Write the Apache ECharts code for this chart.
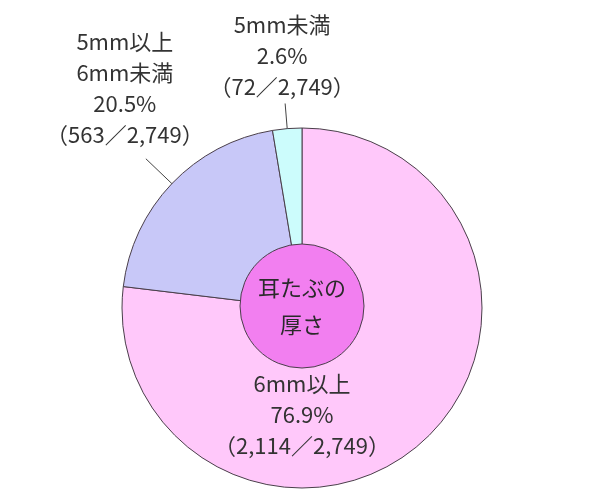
<!DOCTYPE html>
<html>
<head>
<meta charset="utf-8">
<script src="https://cdn.jsdelivr.net/npm/echarts@6/dist/echarts.min.js"></script>
<style>html,body{margin:0;padding:0;background:#fff;}#c{width:600px;height:500px;}</style>
</head>
<body>
<div id="c"></div>
<script>
var categories = ['6mm以上', '5mm以上\n6mm未満', '5mm未満'];
var counts = [2114, 563, 72];
var total = 2749;
var colors = ['#ffc8fa', '#c8c8f8', '#ccfcfc'];
var centerTitle = '耳たぶの\n厚さ';

var CX = 302, CY = 308, R = 180;
var FONT = '"Noto Sans CJK JP", "Noto Sans", sans-serif';

function fmt(n) { return n.toLocaleString('en-US'); }

var data = categories.map(function (c, i) {
  return {
    name: c,
    value: counts[i],
    itemStyle: { color: colors[i] }
  };
});

// mid angles (radians, screen coords) computed from data
var midAngles = [];
(function () {
  var acc = 0;
  for (var i = 0; i < counts.length; i++) {
    var mid = (acc + counts[i] / 2) / total * Math.PI * 2; // clockwise from top
    midAngles.push(mid);
    acc += counts[i];
  }
})();

var lineSpec = { 1: [0.87, 1.2, -21, -71], 2: [0.88, 1.14, -3, -48] };

var chart = echarts.init(document.getElementById('c'));
chart.setOption({
  backgroundColor: '#fff',
  animation: false,
  series: [{
    type: 'pie',
    center: [CX, CY],
    radius: [0, R],
    startAngle: 90,
    clockwise: true,
    silent: true,
    data: data,
    itemStyle: { borderColor: '#4a3f4a', borderWidth: 1 },
    label: {
      show: true,
      position: 'outside',
      overflow: 'none',
      width: 200,
      fontFamily: FONT,
      fontSize: 22,
      lineHeight: 31,
      color: '#333',
      align: 'center',
      formatter: function (p) {
        var pct = (p.value / total * 100).toFixed(1);
        return p.name + '\n' + pct + '%\n（' + fmt(p.value) + '／' + fmt(total) + '）';
      }
    },
    labelLine: { show: true, length: 20, length2: 0, lineStyle: { color: '#444', width: 1 } },
    labelLayout: function (p) {
      var i = p.dataIndex;
      if (i === 0) {
        return { x: CX, y: CY + 107, align: 'center', verticalAlign: 'middle', labelLinePoints: [[CX, CY], [CX, CY]] };
      }
      var s = lineSpec[i];
      var a = midAngles[i];
      var dx = Math.sin(a), dy = -Math.cos(a);
      var p0 = [CX + dx * R * s[0], CY + dy * R * s[0]];
      var p1 = [CX + dx * R * s[1], CY + dy * R * s[1]];
      return {
        x: p1[0] + s[2], y: p1[1] + s[3],
        align: 'center', verticalAlign: 'middle',
        labelLinePoints: [p0, p1, p1]
      };
    }
  }, {
    type: 'pie',
    center: [CX, CY - 2],
    radius: [0, 62],
    silent: true,
    z: 5,
    data: [{ name: centerTitle, value: 1, itemStyle: { color: '#f27ff0' } }],
    itemStyle: { borderColor: '#4a3f4a', borderWidth: 1 },
    label: {
      show: true,
      position: 'center',
      formatter: '{b}',
      fontFamily: FONT,
      fontSize: 22,
      lineHeight: 37,
      color: '#2a2a2a'
    },
    labelLine: { show: false }
  }]
});
</script>
</body>
</html>
